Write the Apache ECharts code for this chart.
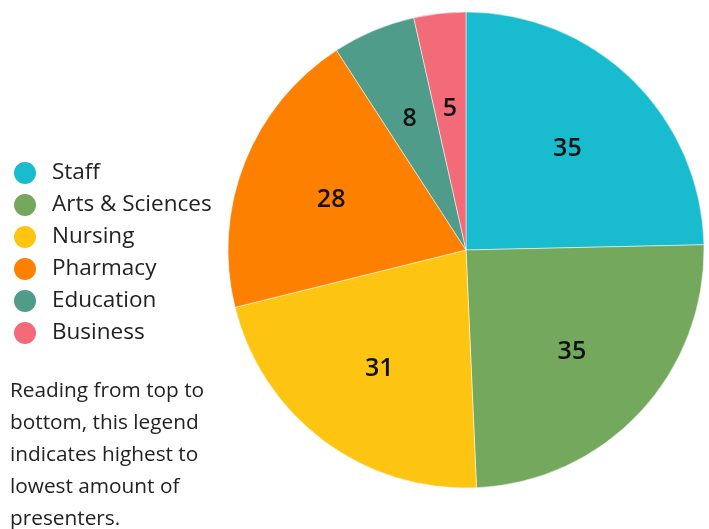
<!DOCTYPE html>
<html><head><meta charset="utf-8">
<script src="https://cdn.jsdelivr.net/npm/echarts@6/dist/echarts.min.js"></script>
<style>html,body{margin:0;padding:0;background:#fff}#c{width:709px;height:529px}</style>
</head><body><div id="c"></div>
<script>
const categories = ['Staff','Arts & Sciences','Nursing','Pharmacy','Education','Business'];
const values = [35,35,31,28,8,5];
const colors = ['#19bbcf','#74a85d','#fdc412','#fe8000','#4f9c8b','#f36b79'];
const note = 'Reading from top to\nbottom, this legend\nindicates highest to\nlowest amount of\npresenters.';

const data = categories.map((n,i)=>({name:n,value:values[i],itemStyle:{color:colors[i]}}));
const chart = echarts.init(document.getElementById('c'));
const FONT = 'Open Sans';
chart.setOption({
  animation:false,
  legend:{
    orient:'vertical', left:12, top:160, icon:'circle', padding:0,
    itemWidth:24, itemHeight:24, itemGap:6,
    selectedMode:false,
    textStyle:{fontFamily:FONT,fontSize:22.5,color:'#222',padding:[0,0,0,10],lineHeight:24,height:24},
    data:categories
  },
  graphic:[{type:'text',left:10,top:375,style:{text:note,fontFamily:FONT,fontSize:20.8,lineHeight:32,fill:'#222'}}],
  series:[
    {type:'pie',center:[466,250],radius:[0,238],startAngle:90,clockwise:true,
     label:{show:false},labelLine:{show:false},
     itemStyle:{borderColor:'#fff',borderWidth:0.5},
     emphasis:{disabled:true},data:data},
    {type:'pie',center:[466,250],radius:[0,284],startAngle:90,clockwise:true,silent:true,
     itemStyle:{color:'rgba(0,0,0,0)'},
     label:{show:true,position:'inside',formatter:'{c}',fontFamily:FONT,fontSize:25,fontWeight:600,color:'#111',offset:[0,3]},
     labelLine:{show:false},emphasis:{disabled:true},
     data:categories.map((n,i)=>({name:n,value:values[i]})),legendHoverLink:false}
  ]
});
</script></body></html>
